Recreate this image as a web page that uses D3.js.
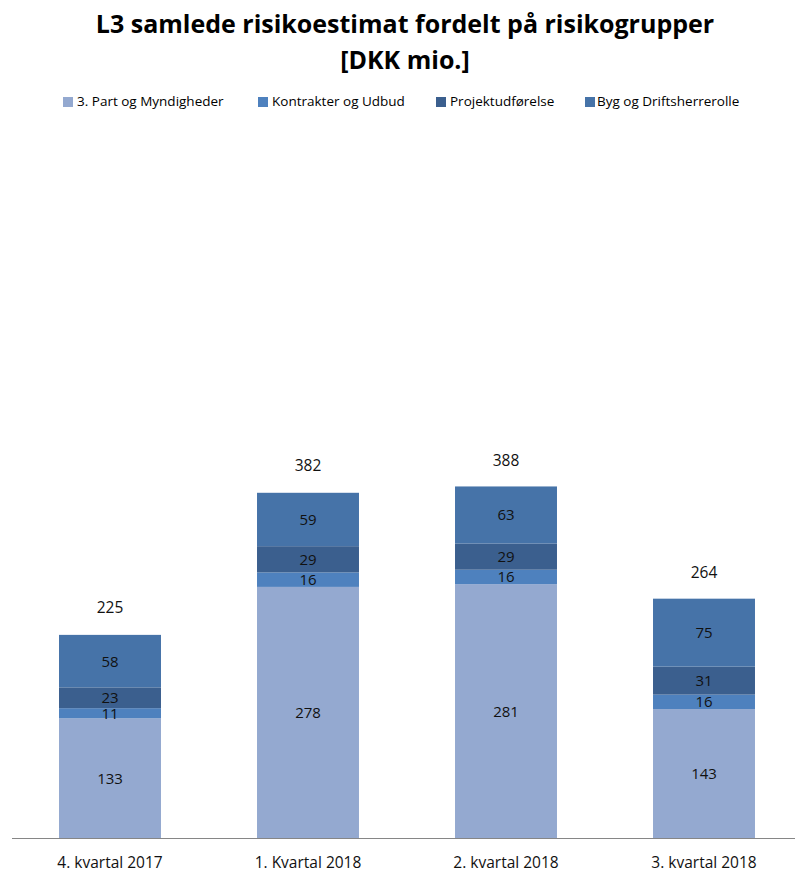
<!DOCTYPE html>
<html><head><meta charset="utf-8">
<script src="https://cdn.jsdelivr.net/npm/d3@7"></script>
<style>body{margin:0;background:#fff;}svg{display:block;font-family:"Open Sans","Liberation Sans",sans-serif;}</style>
</head><body><div id="chart"></div>
<script>
const categories = ["4. kvartal 2017", "1. Kvartal 2018", "2. kvartal 2018", "3. kvartal 2018"];
const seriesNames = ["3. Part og Myndigheder", "Kontrakter og Udbud", "Projektudførelse", "Byg og Driftsherrerolle"];
const partMyndigheder = [133, 278, 281, 143];
const kontrakterUdbud = [11, 16, 16, 16];
const projektudforelse = [23, 29, 29, 31];
const bygDriftsherre = [58, 59, 63, 75];
const totals = [225, 382, 388, 264];
const colors = ["#94a9d0", "#4e81be", "#3b5f8e", "#4673a8"];

const W = 795, H = 873;
const svg = d3.select("#chart").append("svg").attr("width", W).attr("height", H);

const seriesValues = [partMyndigheder, kontrakterUdbud, projektudforelse, bygDriftsherre];
const rows = categories.map((c, i) => {
  const r = {cat: c};
  seriesNames.forEach((s, j) => r[s] = seriesValues[j][i]);
  return r;
});
const stack = d3.stack().keys(seriesNames)(rows);

const x = d3.scaleBand().domain(categories).range([11, 803]).paddingInner(0.485).paddingOuter(0.2425);
const y = d3.scaleLinear().domain([0, 800]).range([838.5, 114.5]);

// title
const title = svg.append("text").attr("text-anchor", "middle").attr("font-weight", "bold")
  .attr("font-size", 25).attr("fill", "#000");
title.append("tspan").attr("x", 405).attr("y", 33).text("L3 samlede risikoestimat fordelt på risikogrupper");
title.append("tspan").attr("x", 405).attr("y", 69).text("[DKK mio.]");

// legend
const legendX = [63, 258, 436, 585];
const legendTextX = [77, 272, 450, 597];
const lg = svg.append("g");
seriesNames.forEach((s, j) => {
  lg.append("rect").attr("x", legendX[j]).attr("y", 97).attr("width", 10).attr("height", 10).attr("fill", colors[j]);
  lg.append("text").attr("x", legendTextX[j]).attr("y", 106).attr("font-size", 13.5).attr("fill", "#000").text(s);
});

// bars
const g = svg.append("g");
stack.forEach((layer, j) => {
  g.selectAll(null).data(layer).enter().append("rect")
    .attr("x", d => x(d.data.cat))
    .attr("y", d => y(d[1]))
    .attr("width", x.bandwidth())
    .attr("height", d => y(d[0]) - y(d[1]))
    .attr("fill", colors[j]);
  g.selectAll(null).data(layer).enter().append("text")
    .attr("x", d => x(d.data.cat) + x.bandwidth() / 2)
    .attr("y", d => (y(d[0]) + y(d[1])) / 2)
    .attr("dy", "0.36em")
    .attr("text-anchor", "middle").attr("font-size", 15).attr("fill", "#111")
    .text(d => d[1] - d[0]);
});

// totals
g.selectAll(null).data(categories).enter().append("text")
  .attr("x", d => x(d) + x.bandwidth() / 2)
  .attr("y", (d, i) => y(totals[i]) - 27)
  .attr("dy", "0.36em")
  .attr("text-anchor", "middle").attr("font-size", 15.5).attr("fill", "#111")
  .text((d, i) => totals[i]);

// axis
const ax = svg.append("g").attr("transform", "translate(0,838.5)")
  .call(d3.axisBottom(x).tickSize(0).tickPadding(18));
ax.select(".domain").attr("stroke", "#868686").attr("d", "M12,0H795");
ax.selectAll("text").attr("font-size", 15.5).attr("fill", "#111").attr("font-family", "\"Open Sans\",sans-serif");
</script></body></html>
